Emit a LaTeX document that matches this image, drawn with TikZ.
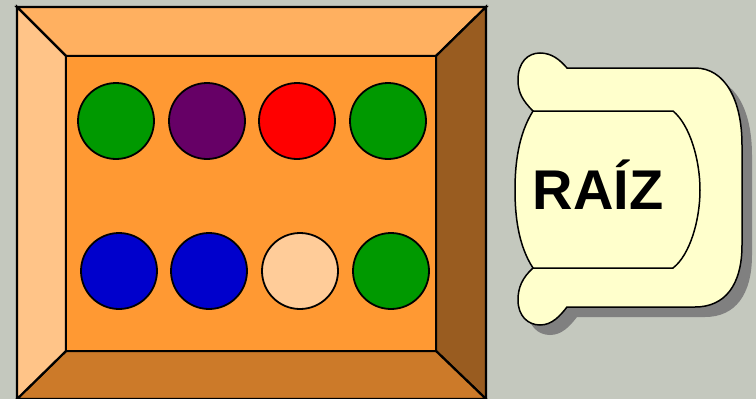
\documentclass[tikz,border=0pt]{standalone}
\usepackage{fontspec}
\newfontfamily\raizfont{Liberation Sans}
\usepackage{tikz}
\usetikzlibrary{calc}
\definecolor{bgback}{RGB}{196,200,190}
\definecolor{boxtop}{RGB}{255,176,96}
\definecolor{boxleft}{RGB}{255,196,136}
\definecolor{boxright}{RGB}{153,92,32}
\definecolor{boxbottom}{RGB}{204,122,41}
\definecolor{boxinner}{RGB}{255,153,51}
\definecolor{bgreen}{RGB}{0,153,0}
\definecolor{bpurple}{RGB}{102,0,102}
\definecolor{bred}{RGB}{255,0,0}
\definecolor{bblue}{RGB}{0,0,204}
\definecolor{bpeach}{RGB}{255,204,153}
\definecolor{scrollfill}{RGB}{255,255,204}
\tikzset{
  sframe/.style={draw=black, line width=2.2pt, line join=miter},
  sball/.style={circle, draw=black, line width=1.8pt, minimum size=76pt, inner sep=0pt},
  sscroll/.style={draw=black, line width=1.5pt, fill=scrollfill},
  sshadow/.style={fill=black!50},
  slabel/.style={font=\raizfont\bfseries\fontsize{56}{60}\selectfont},
}

\begin{document}
\begin{tikzpicture}[x=1pt,y=-1pt]
  \useasboundingbox (0,0) rectangle (756,399);
  \fill[bgback] (0,0) rectangle (756,399);
  % box corners
  \coordinate (o1) at (17,7);   \coordinate (o2) at (486,7);
  \coordinate (o3) at (486,399); \coordinate (o4) at (17,399);
  \coordinate (i1) at (66,56);  \coordinate (i2) at (436,56);
  \coordinate (i3) at (436,351); \coordinate (i4) at (66,351);
  \filldraw[sframe, fill=boxtop] (o1) -- (o2) -- (i2) -- (i1) -- cycle;
  \filldraw[sframe, fill=boxright] (o2) -- (o3) -- (i3) -- (i2) -- cycle;
  \filldraw[sframe, fill=boxbottom] (o4) -- (o3) -- (i3) -- (i4) -- cycle;
  \filldraw[sframe, fill=boxleft] (o1) -- (o4) -- (i4) -- (i1) -- cycle;
  \filldraw[sframe, fill=boxinner] (i1) rectangle (i3);
  % balls
  \node[sball, fill=bgreen]  (b11) at (116,121) {};
  \node[sball, fill=bpurple] (b12) at (207,121) {};
  \node[sball, fill=bred]    (b13) at (297,121) {};
  \node[sball, fill=bgreen]  (b14) at (388,121) {};
  \node[sball, fill=bblue]   (b21) at (119,271) {};
  \node[sball, fill=bblue]   (b22) at (209,271) {};
  \node[sball, fill=bpeach]  (b23) at (300,271) {};
  \node[sball, fill=bgreen]  (b24) at (391,271) {};
  % scroll with its shadow
  \def\scrollpath{(533,111)
    .. controls (522,100) and (518,92) .. (518,80)
    .. controls (518,62) and (528,53) .. (540,53)
    .. controls (552,53) and (560,60) .. (567,68)
    -- (695,68)
    .. controls (725,68) and (742,100) .. (742,145)
    -- (742,245)
    .. controls (742,285) and (725,307) .. (695,307)
    -- (567,307)
    .. controls (560,316) and (552,325) .. (540,325)
    .. controls (528,325) and (518,316) .. (518,300)
    .. controls (518,288) and (522,278) .. (533,268)
    .. controls (518,245) and (515,215) .. (515,190)
    .. controls (515,165) and (518,135) .. (533,111) -- cycle}
  \fill[sshadow, shift={(10pt,-10pt)}] \scrollpath;
  \filldraw[sscroll] \scrollpath;
  \draw[sscroll, fill=none] (533,111) -- (673,111)
    .. controls (690,125) and (700,160) .. (700,190)
    .. controls (700,220) and (690,255) .. (673,268) -- (533,268);
  \node[slabel] (raiz) at (598,185) {RAÍZ};
\end{tikzpicture}
\end{document}
